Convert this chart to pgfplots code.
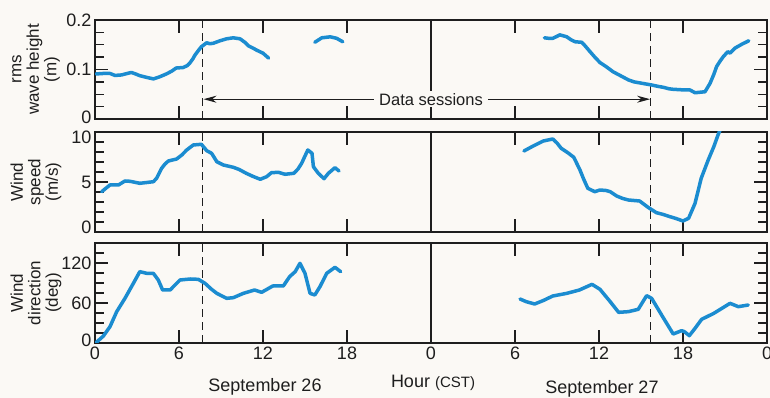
\documentclass[border=0pt]{standalone}
\usepackage{fontspec}
\setmainfont{Liberation Sans}
\usepackage{pgfplots}
\pgfplotsset{compat=1.18}
\usetikzlibrary{arrows.meta}
\definecolor{bg}{RGB}{251,249,245}
\definecolor{curve}{RGB}{27,140,208}
\definecolor{ink}{RGB}{30,30,30}
\newcommand{\up}[2]{\raisebox{#1}[\height][\depth]{#2}}
\pgfplotsset{
  panel/.style={
    scale only axis, width=672pt,
    xmin=0, xmax=48,
    xtick={6,12,18,30,36,42}, xticklabels={},
    tick align=inside, xtick pos=both, ytick pos=both,
    major tick length=13pt, minor tick length=9pt,
    axis line style={ink, line width=1.5pt},
    every tick/.style={ink, line width=1.3pt},
    /pgf/number format/assume math mode=true,
    tick label style={font=\fontsize{18}{18}\selectfont, text=ink},
    ylabel style={at={(axis description cs:-0.0878,0.5)}, anchor=center, align=center,
      font=\fontsize{17}{17.5}\selectfont, text=ink},
    clip=true,
  },
  curvestyle/.style={curve, line width=3.5pt, line join=round, line cap=round},
  refline/.style={ink, line width=1.3pt},
  dashline/.style={ink, line width=1.3pt, dash pattern=on 8pt off 5pt},
}
\begin{document}
\begin{tikzpicture}[x=1pt,y=1pt]
\path[use as bounding box, fill=bg] (0,0) rectangle (770,398);

% ---------- Panel 1: rms wave height ----------
\begin{axis}[panel, at={(95pt,279pt)}, anchor=south west, height=99pt,
  ymin=0, ymax=0.2, ytick={0,0.1,0.2}, yticklabels={\up{2pt}{0},0.1,0.2},
  minor ytick={0.025,0.05,0.075,0.125,0.15,0.175},
  ylabel={rms\\wave height\\(m)}]
\addplot[refline] coordinates {(24,0) (24,0.2)};
\addplot[dashline] coordinates {(7.7,0) (7.7,0.2)};
\addplot[dashline] coordinates {(39.7,0) (39.7,0.2)};
\draw[ink, line width=1.2pt, {Stealth[length=13pt,width=7pt]}-{Stealth[length=13pt,width=7pt]}]
  (axis cs:7.75,0.04) -- (axis cs:39.65,0.04);
\node[fill=bg, inner xsep=5pt, inner ysep=2pt, font=\fontsize{16.5}{16.5}\selectfont, text=ink]
  at (axis cs:24,0.04) {Data sessions};
\addplot[curvestyle] coordinates {
(0.07,0.091) (0.6,0.092) (1.07,0.092) (1.43,0.088) (1.9,0.089) (2.3,0.092) (2.6,0.094)
(2.9,0.091) (3.2,0.0875) (3.7,0.084) (4.17,0.081) (4.6,0.085) (5.1,0.091) (5.5,0.097)
(5.8,0.103) (6.3,0.104) (6.6,0.108) (6.8,0.114) (7.0,0.122) (7.14,0.129) (7.4,0.139)
(7.6,0.146) (7.98,0.154) (8.2,0.152) (8.45,0.153) (8.93,0.158) (9.4,0.162) (9.88,0.164)
(10.36,0.162) (10.7,0.155) (10.95,0.148) (11.3,0.143) (11.55,0.139) (12.0,0.133) (12.4,0.123)};
\addplot[curvestyle] coordinates {
(15.7,0.155) (16.2,0.164) (16.8,0.166) (17.26,0.163) (17.7,0.156)};
\addplot[curvestyle] coordinates {
(32.1,0.164) (32.4,0.163) (32.7,0.163) (33.0,0.167) (33.2,0.170) (33.7,0.166) (34.0,0.160)
(34.3,0.156) (34.76,0.155) (35.0,0.148) (35.36,0.136) (35.7,0.125) (36.07,0.114) (36.5,0.106)
(37.0,0.0955) (37.5,0.088) (38.1,0.079) (38.5,0.075) (38.9,0.073) (39.3,0.071) (39.76,0.0687)
(40.2,0.066) (40.6,0.064) (41.0,0.061) (41.3,0.060) (41.9,0.059) (42.5,0.0586) (42.86,0.053)
(43.2,0.054) (43.57,0.055) (43.93,0.072) (44.2,0.090) (44.4,0.106) (44.65,0.117) (44.88,0.126)
(45.2,0.136) (45.36,0.133) (45.7,0.143) (46.2,0.151) (46.7,0.158)};
\end{axis}

% ---------- Panel 2: wind speed ----------
\begin{axis}[panel, at={(95pt,166pt)}, anchor=south west, height=100pt,
  ymin=0, ymax=10, ytick={0,5,10}, yticklabels={\up{5pt}{0},5,\up{-5pt}{10}},
  minor ytick={1,2,3,4,6,7,8,9},
  ylabel={Wind\\speed\\(m/s)}]
\addplot[refline] coordinates {(24,0) (24,10)};
\addplot[dashline] coordinates {(7.7,0) (7.7,10)};
\addplot[dashline] coordinates {(39.7,0) (39.7,10)};
\addplot[curvestyle] coordinates {
(0.48,4.03) (0.8,4.4) (1.07,4.7) (1.67,4.7) (2.14,5.1) (2.5,5.07) (3.2,4.87) (3.7,4.95)
(4.17,5.03) (4.4,5.37) (4.76,6.37) (5.0,6.8) (5.24,7.1) (5.83,7.3) (6.2,7.7) (6.55,8.2)
(7.02,8.7) (7.6,8.77) (7.98,8.13) (8.33,7.87) (8.7,7.03) (9.17,6.7) (9.88,6.47) (10.3,6.25)
(10.8,5.87) (11.3,5.55) (11.8,5.27) (12.26,5.53) (12.6,5.93) (13.1,5.97) (13.57,5.77)
(14.2,5.87) (14.5,6.3) (14.76,6.87) (15.0,7.6) (15.2,8.2) (15.5,7.87) (15.6,6.53)
(15.95,5.87) (16.36,5.33) (16.67,5.87) (17.14,6.43) (17.43,6.1)};
\addplot[curvestyle] coordinates {
(30.64,8.1) (31.3,8.6) (32.02,9.1) (32.7,9.3) (33.0,8.9) (33.3,8.37) (33.8,7.9) (34.2,7.47)
(34.64,6.2) (34.9,5.3) (35.2,4.37) (35.7,4.03) (36.07,4.2) (36.5,4.15) (36.8,4.03)
(37.26,3.6) (37.7,3.35) (38.1,3.2) (38.9,3.1) (39.5,2.47) (40.1,1.93) (40.6,1.75)
(41.07,1.53) (41.5,1.35) (42.0,1.1) (42.4,1.37) (42.86,2.87) (43.3,5.37) (43.8,7.2)
(44.2,8.53) (44.5,9.7) (44.65,10.2)};
\end{axis}

% ---------- Panel 3: wind direction ----------
\begin{axis}[panel, at={(95pt,55pt)}, anchor=south west, height=100pt,
  ymin=0, ymax=150, ytick={0,60,120}, yticklabels={\up{3pt}{0},60,120},
  minor ytick={15,30,45,75,90,105,135},
  xtick={0,6,12,18,24,30,36,42,48},
  xticklabels={0,6,12,18,0,6,12,18,0},
  ylabel={Wind\\direction\\(deg)}]
\addplot[refline] coordinates {(24,0) (24,150)};
\addplot[dashline] coordinates {(7.7,0) (7.7,150)};
\addplot[dashline] coordinates {(39.7,0) (39.7,150)};
\addplot[curvestyle] coordinates {
(0.07,0.5) (0.6,10.5) (1.07,24.5) (1.55,47) (2.14,67) (2.74,89.5) (3.2,107) (3.7,104.5)
(4.17,104.5) (4.52,94.5) (4.83,79.5) (5.36,79.5) (6.07,94.5) (6.8,96) (7.38,95.5)
(7.86,89.5) (8.3,81) (8.7,74.5) (9.4,67) (9.88,68) (10.6,74.5) (11.4,79.5) (11.9,76)
(12.7,85.5) (13.45,85.5) (13.9,99.5) (14.3,107) (14.64,119.5) (15.0,104.5) (15.36,74.5)
(15.7,72) (16.07,84.5) (16.55,104.5) (17.14,113.5) (17.55,107)};
\addplot[curvestyle] coordinates {
(30.36,66) (30.8,62) (31.4,58.5) (32.0,63.5) (32.7,70.5) (33.7,74.5) (34.6,79.5)
(35.5,88) (36.07,80.5) (36.8,62) (37.4,46) (38.1,47) (38.8,50.5) (39.4,71) (39.76,67)
(40.5,41) (41.3,13.5) (41.9,18.5) (42.1,17) (42.45,11) (42.86,22) (43.33,35.5)
(44.2,44.5) (45.36,59.5) (45.95,54.5) (46.66,57)};
\end{axis}

\node[font=\fontsize{18}{18}\selectfont, text=ink] at (265,11) {September 26};
\node[font=\fontsize{18}{18}\selectfont, text=ink] at (433,15) {Hour {\fontsize{15}{15}\selectfont (CST)}};
\node[font=\fontsize{18}{18}\selectfont, text=ink] at (602,9) {September 27};
\end{tikzpicture}
\end{document}
